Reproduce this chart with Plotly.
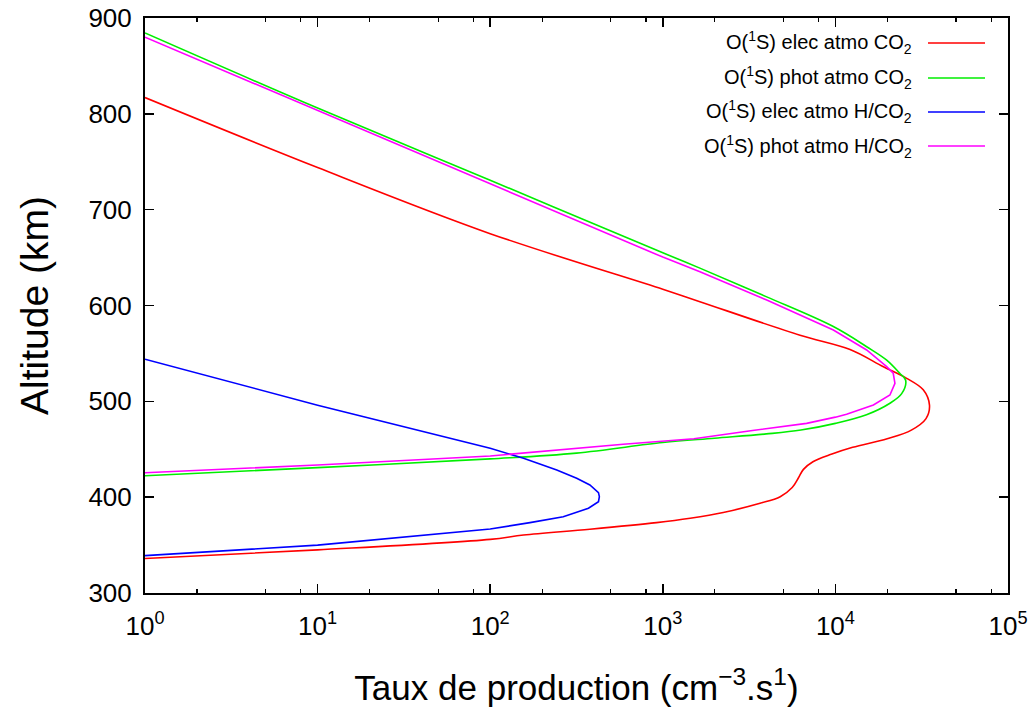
import plotly.graph_objects as go

# ---- data (altitude km, production rate cm^-3 s^-1) ----
elec_co2_alt = [817, 744, 675, 617, 604, 569, 554, 536, 524, 512, 496, 482, 470, 461,
                452, 445, 437, 429, 420, 410, 400.5, 393.6, 384, 378, 373.4, 366.5, 360.5, 356, 345, 336]
elec_co2_val = [1.0, 10, 100, 1000, 1640, 6240, 12160, 18970, 25880, 32280, 35080, 33500, 27540, 19950,
                12590, 9550, 7410, 6530, 6100, 5620, 4790, 3660, 2240, 1440, 920, 378, 156, 100, 10, 1.0]

phot_co2_alt = [884.4, 806, 730.7, 655, 639, 609, 578, 557, 543, 529, 522, 508, 498, 486, 477,
                470, 466, 461.5, 457, 446, 440, 430.8, 422.4]
phot_co2_val = [1.0, 10, 100, 1000, 1640, 4000, 9730, 15170, 19820, 23660, 25530, 24210, 20700, 15140, 10000,
                6310, 3980, 1995, 1000, 316, 100, 10, 1.0]

elec_hco2_alt = [544, 496, 451, 440.6, 428.4, 419.7, 412.7, 404.7, 400.5, 395.3, 388.4, 379.6, 373.4, 366.8, 350, 339]
elec_hco2_val = [1.0, 10, 100, 156, 243, 317, 378, 424, 429, 424, 371, 265, 170, 100, 10, 1.0]

phot_hco2_alt = [880, 803.5, 727, 650.5, 635.3, 605.7, 574.4, 553.6, 536.2, 529.3, 518.8, 506.6, 496.2, 486.5,
                 483.5, 477, 469.5, 461, 455.2, 449.2, 443, 433.6, 425.5]
phot_hco2_val = [1.0, 10, 100, 1000, 1641, 4000, 9730, 15170, 19820, 21630, 22130, 20700, 16600, 11610,
                 10000, 6808, 3311, 1514, 590, 243, 100, 10, 1.0]

series_names = ["O(<sup>1</sup>S) elec atmo CO<sub>2</sub>",
                "O(<sup>1</sup>S) phot atmo CO<sub>2</sub>",
                "O(<sup>1</sup>S) elec atmo H/CO<sub>2</sub>",
                "O(<sup>1</sup>S) phot atmo H/CO<sub>2</sub>"]
series_colors = ["#ff0000", "#00ee00", "#0000ff", "#ff00ff"]
series_shapes = ["spline", "spline", "linear", "linear"]

x_tickvals = [1, 10, 100, 1000, 10000, 100000]
x_ticktext = ["10<sup>0</sup>", "10<sup>1</sup>", "10<sup>2</sup>", "10<sup>3</sup>",
              "10<sup>4</sup>", "10<sup>5</sup>"]
x_minor = [m * 10 ** d for d in range(5) for m in (2, 5, 8)]
y_tickvals = [300, 400, 500, 600, 700, 800, 900]

FONT = "Liberation Sans, Arial, Helvetica, sans-serif"

fig = go.Figure()
data = [(elec_co2_val, elec_co2_alt), (phot_co2_val, phot_co2_alt),
        (elec_hco2_val, elec_hco2_alt), (phot_hco2_val, phot_hco2_alt)]
for (xv, yv), name, col, shp in zip(data, series_names, series_colors, series_shapes):
    fig.add_trace(go.Scatter(x=xv, y=yv, mode="lines", name=name,
                             line=dict(color=col, width=1.6, shape=shp, smoothing=1.0),
                             showlegend=False, cliponaxis=True))

# body margin is removed by post_script, so the figure starts at page (0, 0)
W, H = 1033, 707
PL, PR, PT, PB = 145, 1008, 18, 593          # plot area in page pixels
L, T = PL, PT
R, B = W - PR, H - PB
pw, ph = PR - PL, PB - PT

def px(x):
    return (x - PL) / pw

def py(y):
    return (PB - y) / ph

# legend (gnuplot style: text right-aligned, sample line on the right)
rows = [43, 78, 112, 146]
for yrow, name, col in zip(rows, series_names, series_colors):
    fig.add_annotation(x=px(914), y=py(yrow), xref="paper", yref="paper", text=name,
                       showarrow=False, xanchor="right", yanchor="middle",
                       font=dict(size=20, color="black", family=FONT))
    fig.add_shape(type="line", xref="paper", yref="paper",
                  x0=px(928), x1=px(985), y0=py(yrow), y1=py(yrow),
                  line=dict(color=col, width=1.6))

fig.update_layout(
    width=W, height=H,
    margin=dict(l=L, r=R, t=T, b=B),
    plot_bgcolor="white", paper_bgcolor="white",
    font=dict(family=FONT, size=26, color="black"),
    xaxis=dict(type="log", range=[0, 5], tickmode="array", tickvals=x_tickvals, ticktext=x_ticktext,
               ticks="inside", ticklen=9, tickwidth=1.5, tickcolor="black",
               minor=dict(tickmode="array", tickvals=x_minor, ticks="inside", ticklen=4,
                          tickwidth=1.2, tickcolor="black", showgrid=False),
               showline=True, linecolor="black", linewidth=2, mirror="allticks",
               showgrid=False, zeroline=False, automargin=False, ticklabelstandoff=9,
               ticklabeloverflow="allow",
               tickfont=dict(size=26),
               title=dict(text="Taux de production (cm<sup>\u22123</sup>.s<sup>1</sup>)",
                          font=dict(size=35), standoff=44)),
    yaxis=dict(range=[300, 900], tickmode="array", tickvals=y_tickvals,
               ticks="inside", ticklen=9, tickwidth=1.5, tickcolor="black",
               showline=True, linecolor="black", linewidth=2, mirror="allticks",
               showgrid=False, zeroline=False, ticklabelstandoff=6, automargin=False,
               ticklabeloverflow="allow",
               tickfont=dict(size=26),
               title=dict(text="Altitude (km)", font=dict(size=39), standoff=28)),
)

fig.write_html("out.html",
               config={"displayModeBar": False, "staticPlot": True},
               post_script="document.body.style.margin='0';document.body.style.overflow='hidden';")
